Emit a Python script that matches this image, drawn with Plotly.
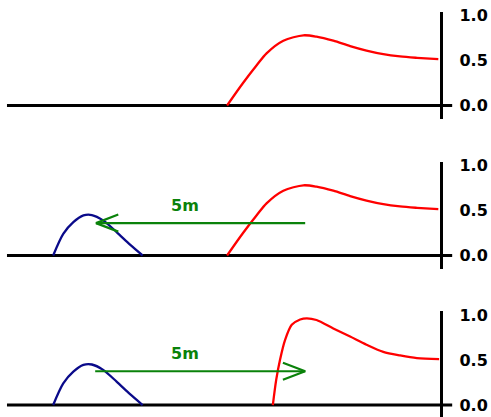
import plotly.graph_objects as go

# ---- data (x in metres, y dimensionless) ----
red_x = [4.93, 5.31, 5.64, 5.87, 6.27, 6.75, 7.06, 7.46, 7.86, 8.25, 8.65, 9.05, 9.45, 9.96]
red_y = [0.0, 0.25, 0.45, 0.58, 0.72, 0.78, 0.765, 0.72, 0.66, 0.61, 0.57, 0.545, 0.53, 0.515]

blue_x = [0.79, 1.03, 1.27, 1.51, 1.71, 1.98, 2.30, 2.62, 2.92]
blue_y = [0.0, 0.24, 0.37, 0.445, 0.45, 0.39, 0.26, 0.12, 0.0]

red3_x = [6.02, 6.10, 6.19, 6.31, 6.47, 6.67, 6.83, 7.06, 7.46, 7.86, 8.25, 8.65, 9.05, 9.45, 9.98]
red3_y = [0.0, 0.28, 0.50, 0.72, 0.89, 0.95, 0.963, 0.944, 0.85, 0.76, 0.67, 0.59, 0.55, 0.52, 0.51]

arrow2_x = [6.79, 1.81]   # tail -> tip
arrow2_y = 0.36
arrow3_x = [1.79, 6.79]
arrow3_y = 0.375
arrow_label = "5m"
label_x = 3.93
label_y = [0.56, 0.57]

baseline_x = [-0.31, 10.29]
y_ticks = [0.0, 0.5, 1.0]
y_ticklabels = ["0.0", "0.5", "1.0"]

# ---- styles ----
RED = "#ff0000"
BLUE = "#0a0a8a"
GREEN = "#0a820a"
H = 417
W = 491
AX_POS = 440.5 / W
HEAD_DX = 0.53
HEAD_DY = 0.095

fig = go.Figure()

domains = [[1 - 119 / H, 1 - 12 / H], [1 - 269 / H, 1 - 162 / H], [0.0, 1 - 311 / H]]
ranges = [[-0.15, 1.039], [-0.15, 1.039], [-0.133, 1.044]]

for i in range(3):
    n = "" if i == 0 else str(i + 1)
    fig.update_layout(**{
        f"xaxis{n}": dict(domain=[0, 1], range=[-20 / 42, 471 / 42], visible=False,
                          anchor=f"y{n}", fixedrange=True, automargin=False),
        f"yaxis{n}": dict(domain=domains[i], range=ranges[i], anchor="free",
                          position=AX_POS, side="right", showline=True,
                          linecolor="black", linewidth=2.5, showgrid=False,
                          zeroline=False, ticks="", tickvals=y_ticks,
                          ticktext=y_ticklabels, ticklabelstandoff=14,
                          automargin=False,
                          tickfont=dict(family="DejaVu Sans", size=16,
                                        color="black", weight="bold")),
    })

def ax(i):
    n = "" if i == 0 else str(i + 1)
    return "x" + n, "y" + n

# baselines
for i in range(3):
    xa, ya = ax(i)
    fig.add_trace(go.Scatter(x=baseline_x, y=[0, 0], mode="lines", xaxis=xa, yaxis=ya,
                             line=dict(color="black", width=2.8), hoverinfo="skip",
                             showlegend=False))

# red curves
for i, (rx, ry) in enumerate([(red_x, red_y), (red_x, red_y), (red3_x, red3_y)]):
    xa, ya = ax(i)
    fig.add_trace(go.Scatter(x=rx, y=ry, mode="lines", xaxis=xa, yaxis=ya,
                             line=dict(color=RED, width=2.3, shape="spline", smoothing=0.8),
                             showlegend=False))

# blue curves
for i in (1, 2):
    xa, ya = ax(i)
    fig.add_trace(go.Scatter(x=blue_x, y=blue_y, mode="lines", xaxis=xa, yaxis=ya,
                             line=dict(color=BLUE, width=2.3, shape="spline", smoothing=0.8),
                             showlegend=False))

# arrows
for i, (axs, ay) in ((1, (arrow2_x, arrow2_y)), (2, (arrow3_x, arrow3_y))):
    xa, ya = ax(i)
    tail, tip = axs
    d = 1 if tip > tail else -1
    fig.add_trace(go.Scatter(x=[tail, tip], y=[ay, ay], mode="lines", xaxis=xa, yaxis=ya,
                             line=dict(color=GREEN, width=2.2), showlegend=False))
    fig.add_trace(go.Scatter(x=[tip - d * HEAD_DX, tip, tip - d * HEAD_DX],
                             y=[ay + HEAD_DY, ay, ay - HEAD_DY], mode="lines",
                             xaxis=xa, yaxis=ya,
                             line=dict(color=GREEN, width=2.2), showlegend=False))
    fig.add_annotation(x=label_x, y=label_y[i - 1], xref=xa, yref=ya, text=arrow_label,
                       showarrow=False,
                       font=dict(family="DejaVu Sans", size=16, color=GREEN, weight="bold"))

fig.update_layout(width=W, height=H, margin=dict(l=0, r=0, t=0, b=0, autoexpand=False),
                  paper_bgcolor="white", plot_bgcolor="white", showlegend=False)

fig.write_html("out.html")
